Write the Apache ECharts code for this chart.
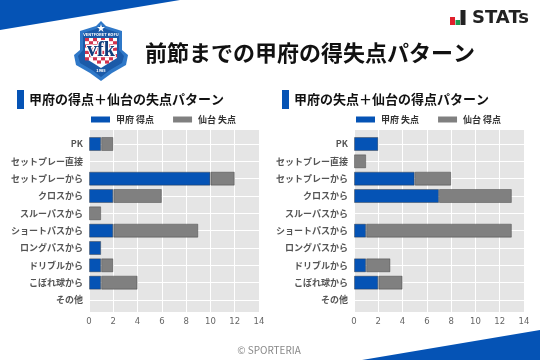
<!DOCTYPE html>
<html><head><meta charset="utf-8">
<style>html,body{margin:0;padding:0;background:#fff}#c{width:540px;height:360px}</style>
<script src="https://cdn.jsdelivr.net/npm/echarts@6/dist/echarts.min.js"></script>
</head><body><div id="c"></div>
<script>
const categories=['PK','セットプレー直接','セットプレーから','クロスから','スルーパスから','ショートパスから','ロングパスから','ドリブルから','こぼれ球から','その他'];
const kofuScored=[1,0,10,2,0,2,1,1,1,0];
const sendaiConceded=[1,0,2,4,1,7,0,1,3,0];
const kofuConceded=[2,0,5,7,0,1,0,1,2,0];
const sendaiScored=[0,1,3,6,0,12,0,2,2,0];
const BLUE='#0553b5',GREY='#808080';
const FONT='"Noto Sans CJK JP","Noto Sans",sans-serif';
const chart=echarts.init(document.getElementById('c'),null,{renderer:'canvas'});
const lefts=[89,354];
const frameGrids=lefts.map(left=>({left,top:130,width:170,height:182,show:true,backgroundColor:'#e5e5e5',borderWidth:0}));
const dataGrids=lefts.map(left=>({left,top:144,width:170,height:156}));
function mkSeries(name,data,color,i){return{name,type:'bar',stack:'s'+i,xAxisIndex:i+2,yAxisIndex:i+2,data:data.map(v=>v||null),barWidth:14,clip:false,
 itemStyle:{color,borderColor:'rgba(50,50,50,0.4)',borderWidth:1},silent:true,animation:false};}
function t(x,y,text,size,weight,color,align,family,extra){return{type:'text',silent:true,style:{x,y,text,fill:color||'#111',font:`${weight||700} ${size}px ${family||FONT}`,align:align||'left',verticalAlign:'middle',...(extra||{})}};}
const legendBase={top:115,padding:0,itemWidth:19,itemHeight:6,itemGap:19,icon:'rect',itemStyle:{borderWidth:0},textStyle:{fontSize:9,fontWeight:700,color:'#333',fontFamily:FONT,padding:[0,0,0,1]}};
// crest
const crest=[];
crest.push({type:'polygon',silent:true,shape:{points:[[101,21],[106,26],[122,31],[122,50],[128,55],[126,65],[112,73],[101,81],[90,73],[76,65],[74,55],[80,50],[80,31],[96,26]]},style:{fill:'#2f78c8'}});
crest.push({type:'polygon',silent:true,shape:{points:[[101,25],[106,29],[119,33],[119,50],[124,56],[122,63],[110,70],[101,77],[92,70],[80,63],[78,56],[83,50],[83,33],[96,29]]},style:{fill:'#1b5aa8'}});
crest.push({type:'polygon',silent:true,shape:{points:[[85,38],[117,38],[117,58],[101,68],[85,58]]},style:{fill:'#ffffff'}});
for(let r=0;r<8;r++){for(let c=0;c<8;c++){ if((r+c)%2) continue;
  const x=85+c*4,y=38+r*3.2; if(y>60&&(x<90||x>110)) continue;
  crest.push({type:'rect',silent:true,shape:{x,y,width:4,height:3.2},style:{fill:'#d2334f'}});}}
crest.push(t(101,51,'vfk',20,700,'#123d7c','center','"Liberation Serif"',{stroke:'#ffffff',lineWidth:2}));
crest.push(t(101,34.5,'VENTFORET KOFU',4,700,'#ffffff','center'));
crest.push(t(101,70,'1965',4,700,'#ffffff','center'));
crest.push({type:'polygon',silent:true,shape:{points:[[101,24],[102,27],[105,27],[102.5,29],[103.5,32],[101,30],[98.5,32],[99.5,29],[97,27],[100,27]]},style:{fill:'#ffffff'}});
const option={animation:false,backgroundColor:'#fff',
 grid:[...frameGrids,...dataGrids],
 xAxis:[0,1,2,3].map(i=>({gridIndex:i,type:'value',min:0,max:14,interval:2,show:i<2,axisLine:{show:false},axisTick:{show:false},
   splitLine:{show:i<2,lineStyle:{color:'#fff',width:1}},axisLabel:{color:'#666',fontSize:8.5,margin:5,fontFamily:'"DejaVu Sans"'}})),
 yAxis:[0,1,2,3].map(i=>({gridIndex:i,type:'category',inverse:true,boundaryGap:false,data:categories,show:i>=2,axisLine:{show:false},axisTick:{show:false},
   splitLine:{show:i>=2,interval:0,lineStyle:{color:'#fff',width:1}},axisLabel:{interval:0,color:'#555',fontSize:9,fontWeight:700,margin:6,fontFamily:FONT}})),
 legend:[
  {...legendBase,data:['甲府 得点','仙台 失点'],left:91},
  {...legendBase,data:['甲府 失点','仙台 得点'],left:356}],
 series:[mkSeries('甲府 得点',kofuScored,BLUE,0),mkSeries('仙台 失点',sendaiConceded,GREY,0),
         mkSeries('甲府 失点',kofuConceded,BLUE,1),mkSeries('仙台 得点',sendaiScored,GREY,1)],
 graphic:[
  {type:'polygon',silent:true,shape:{points:[[0,0],[180,0],[0,30]]},style:{fill:BLUE}},
  {type:'polygon',silent:true,shape:{points:[[362,360],[540,330],[540,360]]},style:{fill:BLUE}},
  t(145,53,'前節までの甲府の得失点パターン',22,700),
  {type:'rect',silent:true,shape:{x:17,y:90,width:7,height:19},style:{fill:BLUE}},
  {type:'rect',silent:true,shape:{x:282,y:90,width:7,height:19},style:{fill:BLUE}},
  t(29,99.5,'甲府の得点＋仙台の失点パターン',13,700),
  t(294,99.5,'甲府の失点＋仙台の得点パターン',13,700),
  t(269,350,'© SPORTERIA',10,400,'#888','center'),
  {type:'rect',silent:true,shape:{x:450,y:17,width:5,height:8},style:{fill:'#e0202c'}},
  {type:'rect',silent:true,shape:{x:455.5,y:20,width:4.5,height:5},style:{fill:'#1a9a50'}},
  {type:'rect',silent:true,shape:{x:460.5,y:10,width:5,height:15},style:{fill:'#222'}},
  t(472,18,'STATs',18,700,'#222','left','"DejaVu Sans"'),
  ...crest
 ]};
chart.setOption(option);
</script></body></html>
